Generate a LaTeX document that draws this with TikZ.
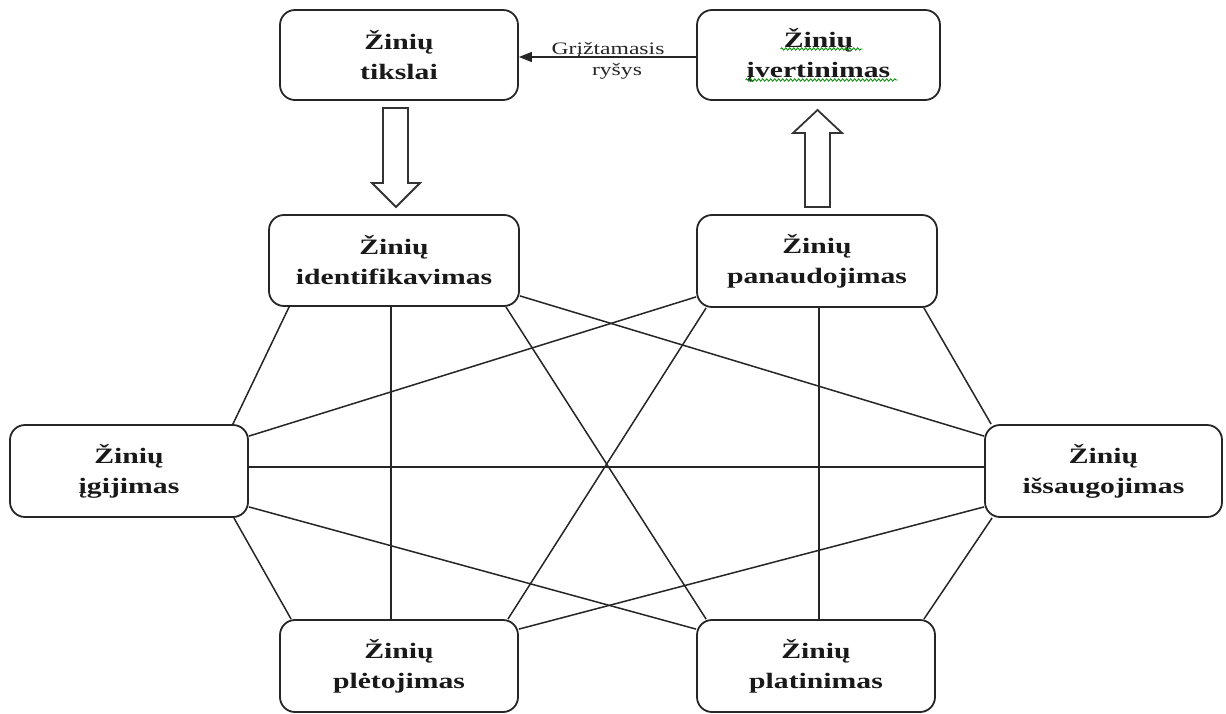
\documentclass[tikz,border=0pt]{standalone}
\usepackage{fontspec}
\setmainfont{Liberation Serif}
\newfontfamily\boxfont[FakeStretch=1.35]{Liberation Serif}
\usetikzlibrary{arrows.meta,decorations.pathmorphing}
\begin{document}
\begin{tikzpicture}[x=1pt,y=-1pt,
  box/.style={draw=black!85, line width=1.8pt, rounded corners=15pt, align=center, inner sep=0pt,
    font=\boxfont\bfseries\fontsize{22}{30}\selectfont, text=black!90},
  link/.style={draw=black!85, line width=1.5pt},
  hollow/.style={draw=black!80, line width=1.8pt, fill=white, line join=miter},
  lbl/.style={font=\boxfont\fontsize{17.5}{21}\selectfont, text=black!85, inner sep=0pt},
  wavy/.style={draw=green!55!black, line width=0.8pt, decorate,
    decoration={snake, amplitude=1.2pt, segment length=4pt}}]
\fill[white] (0,0) rectangle (1226,713);
\useasboundingbox (0,0) rectangle (1226,713);

% boxes
\node[box, minimum width=238pt, minimum height=90pt] (T) at (399,55) {Žinių\\tikslai};
\node[box, minimum width=243pt, minimum height=90pt] (V) at (818.5,55) {Žinių\\įvertinimas};
\node[box, minimum width=250pt, minimum height=91pt] (A) at (394,260.5) {Žinių\\identifikavimas};
\node[box, minimum width=240pt, minimum height=92pt] (B) at (817,261) {Žinių\\panaudojimas};
\node[box, minimum width=238pt, minimum height=92pt] (C) at (129,471) {Žinių\\įgijimas};
\node[box, minimum width=237pt, minimum height=92pt] (D) at (1103.5,471) {Žinių\\išsaugojimas};
\node[box, minimum width=238pt, minimum height=92pt] (E) at (399,666) {Žinių\\plėtojimas};
\node[box, minimum width=238pt, minimum height=92pt] (F) at (816,666) {Žinių\\platinimas};

% spell-check underline
\draw[wavy] ([xshift=-38,yshift=6]V.center) -- ([xshift=44,yshift=6]V.center);
\draw[wavy] ([xshift=-73,yshift=-25]V.center) -- ([xshift=79,yshift=-25]V.center);

% feedback arrow
\draw[link, -{Triangle[length=13pt,width=10pt]}] ([yshift=-2]V.west) -- ([yshift=-2]T.east);
\node[lbl, anchor=base] (g1) at (608,54) {Grįžtamasis};
\node[lbl, anchor=base] (g2) at (617,75) {ryšys};

% hollow arrows
\draw[hollow] (383,108) -- (408,108) -- (408,183) -- (420,183) -- (396,207) -- (372,183) -- (383,183) -- cycle;
\draw[hollow] (805,207) -- (830,207) -- (830,133) -- (842,133) -- (817.5,110) -- (793,133) -- (805,133) -- cycle;

% network links
\draw[link] ([xshift=21]A.south west) -- ([xshift=-16]C.north east);
\draw[link] ([xshift=-3]A.south) -- ([xshift=-8]E.north);
\draw[link] ([xshift=-14]A.south east) -- ([xshift=10]F.north west);
\draw[link] ([yshift=11]A.south east) -- ([yshift=-12]D.north west);
\draw[link] ([yshift=11]B.south west) -- ([yshift=-12]C.north east);
\draw[link] ([xshift=10]B.south west) -- ([xshift=-11]E.north east);
\draw[link] ([xshift=2]B.south) -- ([xshift=3]F.north);
\draw[link] ([xshift=-14]B.south east) -- ([xshift=7]D.north west);
\draw[link] ([yshift=4]C.east) -- ([yshift=4]D.west);
\draw[link] ([yshift=11]C.south east) -- ([yshift=-10]F.north west);
\draw[link] ([xshift=-15]C.south east) -- ([xshift=12]E.north west);
\draw[link] ([yshift=11]D.south west) -- ([yshift=-10]E.north east);
\draw[link] ([xshift=8]D.south west) -- ([xshift=-12]F.north east);
\end{tikzpicture}
\end{document}
